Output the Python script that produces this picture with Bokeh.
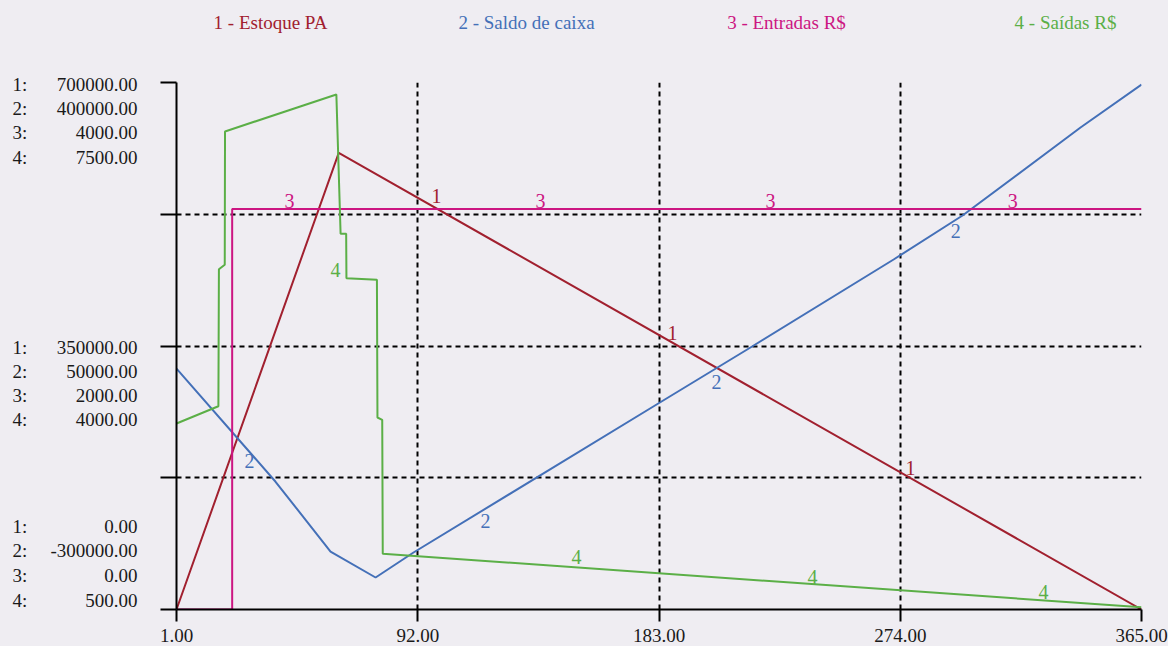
from bokeh.plotting import figure
from bokeh.layouts import column, row
from bokeh.models import Range1d, FixedTicker, PrintfTickFormatter, CustomJSTickFormatter
from bokeh.embed import file_html
from bokeh.resources import INLINE
from bokeh.core.properties import value

# ---------------- data ----------------
series_names = ["1 - Estoque PA", "2 - Saldo de caixa", "3 - Entradas R$", "4 - Saídas R$"]
series_colors = ["#A1202F", "#4470B8", "#CC1682", "#5BAF47"]

days_1 = [1, 62.2, 365]
estoque = [0, 606600, 0]

days_2 = [1, 38.3, 59.1, 76.1, 90.4, 182.1, 217.5, 271.5, 297.5, 342, 365]
saldo = [20000, -130000, -223000, -257500, -224300, -27700, 48000, 164900, 223300, 340200, 397300]

days_3 = [1, 22, 22, 365]
entradas = [0, 0, 3040, 3040]

days_4 = [1, 16.8, 17.0, 19.2, 19.3, 61.3, 62.9, 65.0, 65.1, 76.6, 76.8, 78.6, 78.8, 365]
saidas = [2970, 3200, 5020, 5080, 6850, 7340, 5490, 5490, 4900, 4880, 3050, 3020, 1240, 530]

# scales of each series (min, max)
scale_1 = (0, 700000)
scale_2 = (-300000, 400000)
scale_3 = (0, 4000)
scale_4 = (500, 7500)

x_ticks = [1, 92, 183, 274, 365]

# in-line series labels (day, value)
lab1_days = [99.1, 188.1, 277.9]
lab1_vals = [548600, 367900, 188600]
lab2_days = [28.5, 117.6, 204.7, 294.9]
lab2_vals = [-102100, -183100, 2840, 203400]
lab3_days = [43.6, 138.3, 225.1, 316.4]
lab3_vals = [3104, 3104, 3104, 3104]
lab4_days = [61.0, 151.9, 240.9, 328.0]
lab4_vals = [5003, 1191, 938, 726]

# ---------------- layout constants ----------------
FONT = "Liberation Serif"
BG = "#EFEDF2"
TXT = "#1a1a1a"
W, H = 1168, 646
LEG_H = 44
LEFT_W = 138
FRAME_LEFT, FRAME_RIGHT = 176, 1141
FRAME_TOP, FRAME_BOTTOM = 82, 609
FRAME_H = FRAME_BOTTOM - FRAME_TOP


def bare(fig):
    fig.outline_line_color = None
    fig.background_fill_color = BG
    fig.border_fill_color = BG
    fig.styles = {"background-color": BG}
    return fig


# ---------------- main chart ----------------
p = bare(figure(width=W - LEFT_W, height=H - LEG_H, output_backend="svg", toolbar_location=None,
                x_range=Range1d(1, 365), y_range=Range1d(*scale_1),
                min_border_left=FRAME_LEFT - LEFT_W, min_border_right=W - FRAME_RIGHT,
                min_border_top=FRAME_TOP - LEG_H, min_border_bottom=H - FRAME_BOTTOM))

p.extra_y_ranges = {"r2": Range1d(*scale_2), "r3": Range1d(*scale_3), "r4": Range1d(*scale_4)}

y_ticks = [scale_1[0] + (scale_1[1] - scale_1[0]) * k / 4 for k in range(5)]

p.xgrid.ticker = FixedTicker(ticks=x_ticks)
p.ygrid.ticker = FixedTicker(ticks=y_ticks)
for g in (p.xgrid, p.ygrid):
    g.grid_line_color = "black"
    g.grid_line_width = 2
    g.grid_line_dash = "5 4"

xa = p.xaxis[0]
xa.ticker = FixedTicker(ticks=x_ticks)
xa.formatter = PrintfTickFormatter(format="%.2f")
xa.axis_line_width = 2
xa.major_tick_line_width = 2
xa.major_tick_in = 0
xa.major_tick_out = 12
xa.minor_tick_line_color = None
xa.major_label_standoff = 7
xa.major_label_text_font = FONT
xa.major_label_text_font_size = "19px"
xa.major_label_text_color = TXT

ya = p.yaxis[0]
ya.ticker = FixedTicker(ticks=y_ticks)
ya.formatter = CustomJSTickFormatter(code="return ''")
ya.axis_line_width = 2
ya.major_tick_line_width = 2
ya.major_tick_in = 0
ya.major_tick_out = 16
ya.minor_tick_line_color = None

p.line(days_1, estoque, line_color=series_colors[0], line_width=2)
p.line(days_2, saldo, line_color=series_colors[1], line_width=2, y_range_name="r2")
p.line(days_3, entradas, line_color=series_colors[2], line_width=2, y_range_name="r3")
p.line(days_4, saidas, line_color=series_colors[3], line_width=2, y_range_name="r4")

for (dx, dy, rn, num, col) in [
    (lab1_days, lab1_vals, "default", "1", series_colors[0]),
    (lab2_days, lab2_vals, "r2", "2", series_colors[1]),
    (lab3_days, lab3_vals, "r3", "3", series_colors[2]),
    (lab4_days, lab4_vals, "r4", "4", series_colors[3]),
]:
    p.text(x=dx, y=dy, text=[num] * len(dx), y_range_name=rn,
           text_font=value(FONT), text_font_size=value("20px"), text_color=col,
           text_align="center", text_baseline="middle")

# ---------------- left stacked scale labels (full-height column) ----------------
span1 = scale_1[1] - scale_1[0]
per_px = span1 / FRAME_H
left_range = Range1d(scale_1[0] - (H - FRAME_BOTTOM) * per_px,
                     scale_1[1] + FRAME_TOP * per_px)
left = bare(figure(width=LEFT_W, height=H, output_backend="svg", toolbar_location=None,
                   x_range=Range1d(0, LEFT_W), y_range=left_range,
                   x_axis_type=None, y_axis_type=None, min_border=0))
left.grid.visible = False

scales = [scale_1, scale_2, scale_3, scale_4]
blocks = [
    ("max", y_ticks[4], [2, 26, 50, 75]),      # pixel drop below gridline
    ("mid", y_ticks[2], [1, 25, 49, 73]),
    ("min", y_ticks[0], [-83, -59, -34, -9]),
]
idx_x, idx_y, idx_t, val_x, val_y, val_t = [], [], [], [], [], []
for kind, yv, drops in blocks:
    for i, (s, d) in enumerate(zip(scales, drops)):
        v = s[1] if kind == "max" else (s[0] if kind == "min" else (s[0] + s[1]) / 2)
        yy = yv - d * per_px
        idx_x.append(12); idx_y.append(yy); idx_t.append(f"{i + 1}:")
        val_x.append(LEFT_W - 1); val_y.append(yy); val_t.append(f"{v:.2f}")

left.text(x=idx_x, y=idx_y, text=idx_t, text_font=value(FONT), text_font_size=value("19px"),
          text_color=TXT, text_align="left", text_baseline="middle")
left.text(x=val_x, y=val_y, text=val_t, text_font=value(FONT), text_font_size=value("19px"),
          text_color=TXT, text_align="right", text_baseline="middle")

# ---------------- legend row (above the chart; its frame is aligned with the chart's) ----------------
leg = bare(figure(width=W - LEFT_W, height=LEG_H, output_backend="svg", toolbar_location=None,
                  x_range=Range1d(FRAME_LEFT, FRAME_RIGHT), y_range=Range1d(0, LEG_H),
                  x_axis_type=None, y_axis_type=None, min_border=0))
leg.grid.visible = False
legend_x = [270, 526, 786, 1065]
leg.text(x=legend_x, y=[LEG_H - 22] * 4, text=series_names, text_color=series_colors,
         text_font=value(FONT), text_font_size=value("19px"),
         text_align="center", text_baseline="middle")

layout = row(left, column(leg, p, spacing=0, styles={"background-color": BG}),
             spacing=0, styles={"background-color": BG})
open("out.html", "w").write(file_html(layout, INLINE))
